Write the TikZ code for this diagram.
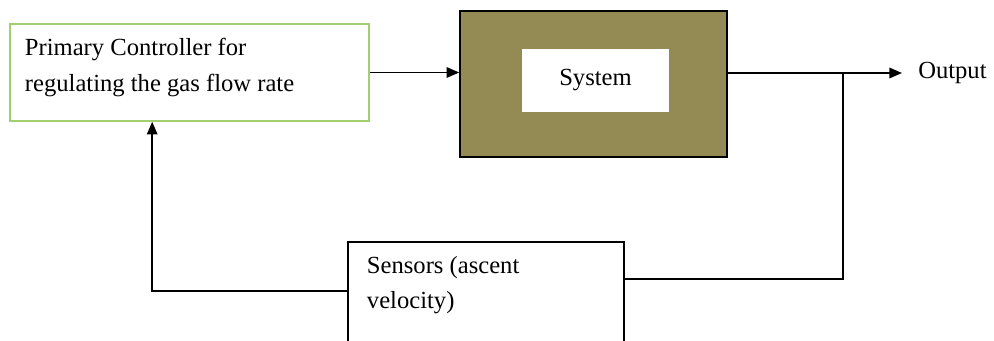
\documentclass[tikz,border=0pt]{standalone}
\usepackage{fontspec}
\setmainfont{Liberation Serif}
\usetikzlibrary{arrows.meta, positioning, calc}

\definecolor{olivefill}{RGB}{148,138,84}
\definecolor{boxgreen}{RGB}{160,208,112}

\begin{document}
\begin{tikzpicture}[x=0.025cm, y=-0.025cm, >={Triangle[length=9pt,width=7.5pt]}, line width=1.1pt,
  block/.style={draw, rectangle, inner sep=0pt},
  txt/.style={font=\fontsize{17.5}{25.5}\selectfont, align=left, inner sep=0pt}]

% Frame (the sensor box runs off the bottom)
\clip (0,0) rectangle (994,341);

% Blocks
\node[block, draw=boxgreen, minimum width=8.975cm, minimum height=2.425cm] (ctrl) at (189.5,72.5) {};
\node[txt, anchor=north west] (ctrltext) at ($(ctrl.north west)+(15,14)$)
    {Primary Controller for\\regulating the gas\ flow rate};

\node[block, fill=olivefill, minimum width=6.675cm, minimum height=3.65cm] (sys) at (593.5,84) {};
\node[block, draw=none, fill=white, minimum width=3.675cm, minimum height=1.575cm, txt] (systext) at (595.5,80.5) {System};

\node[block, minimum width=6.9cm, minimum height=3.5cm] (sens) at (486,312) {};
\node[txt, anchor=north west] (senstext) at ($(sens.north west)+(19,14)$)
    {Sensors (ascent\\velocity)};

\node[txt, anchor=west, inner xsep=11pt] (out) at (902,73) {Output};

% Forward path
\coordinate (tap) at (843,73);
\draw[->] (ctrl.east) -- (ctrl.east -| sys.west);
\draw (sys.east |- tap) -- (tap);
\draw[->] (tap) -- (out.west);

% Feedback path
\draw (tap) |- ($(sens.north east)+(0,38)$);
\draw[->] ($(sens.north west)+(0,50)$) -| ($(ctrl.south west)+(143,0)$);

\end{tikzpicture}
\end{document}
